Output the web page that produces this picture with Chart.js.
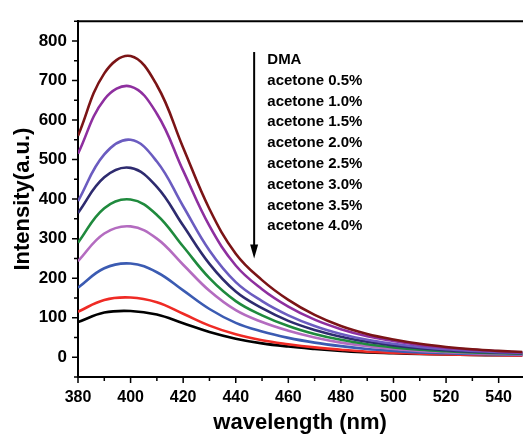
<!DOCTYPE html>
<html lang="en">
  <head>
    <meta charset="UTF-8" />
    <title>Fluorescence</title>
    <script src="https://cdn.jsdelivr.net/npm/chart.js"></script>
    <style>
      html, body { margin: 0; padding: 0; background: #fff; }
      #wrap { width: 523px; height: 436px; }
    </style>
  </head>
  <body>
    <div id="wrap"><canvas id="spec"></canvas></div>
    <script>
      // wavelength (nm)
      const wavelengths = [380, 390, 400, 410, 420, 430, 440, 450, 460, 470, 480, 490, 500, 510, 520, 530, 540, 550];

      const seriesNames = ["DMA", "acetone 0.5%", "acetone 1.0%", "acetone 1.5%", "acetone 2.0%",
                           "acetone 2.5%", "acetone 3.0%", "acetone 3.5%", "acetone 4.0%"];
      const seriesColors = ["#7b1416", "#8e2f9f", "#6b5cc0", "#2e2b6f", "#1f8a3d",
                            "#b46cc0", "#3b5bb2", "#ef2b25", "#000000"];

      const dma   = [560, 718, 762, 688, 530, 375, 262, 195, 145, 107, 79, 59, 45, 34, 26, 20, 16, 13];
      const ac05  = [515, 652, 685, 616, 472, 332, 232, 172, 128, 95, 71, 53, 41, 31, 24, 19, 15, 12];
      const ac10  = [395, 513, 550, 495, 382, 270, 190, 142, 106, 79, 59, 44, 34, 26, 20, 16, 13, 11];
      const ac15  = [365, 455, 479, 431, 333, 236, 166, 124, 92, 69, 52, 39, 30, 23, 18, 14, 12, 10];
      const ac20  = [290, 377, 399, 360, 280, 200, 142, 106, 79, 59, 44, 33, 25, 19, 15, 12, 10, 9];
      const ac25  = [243, 313, 331, 300, 234, 168, 119, 89, 67, 50, 37, 28, 21, 16, 13, 10, 8, 7];
      const ac30  = [176, 225, 237, 215, 169, 122, 87, 65, 49, 37, 28, 21, 16, 12, 10, 8, 7, 6];
      const ac35  = [115, 145, 151, 139, 110, 80, 58, 43, 33, 25, 19, 14, 11, 9, 7, 6, 5, 4];
      const ac40  = [89, 113, 117, 108, 86, 64, 47, 35, 27, 21, 16, 12, 10, 8, 7, 6, 5, 5];
      const allSeries = [dma, ac05, ac10, ac15, ac20, ac25, ac30, ac35, ac40];

      const xMajor = [380, 400, 420, 440, 460, 480, 500, 520, 540];
      const xMinor = [390, 410, 430, 450, 470, 490, 510, 530, 550];
      const yMajor = [0, 100, 200, 300, 400, 500, 600, 700, 800];
      const yMinor = [-50, 50, 150, 250, 350, 450, 550, 650, 750, 850];

      const datasets = allSeries.map((vals, i) => ({
        label: seriesNames[i],
        data: vals.map((v, j) => ({ x: wavelengths[j], y: v })),
        borderColor: seriesColors[i],
        borderWidth: 2.6,
        pointRadius: 0,
        fill: false,
        tension: 0.4,
      }));

      // ticks, top frame, arrow and the text list
      const decor = {
        id: "decor",
        afterDraw(chart) {
          const ctx = chart.ctx;
          const xs = chart.scales.x;
          const ys = chart.scales.y;
          const a = chart.chartArea;
          ctx.save();
          ctx.strokeStyle = "#000";
          ctx.lineWidth = 2;
          ctx.beginPath();
          ctx.moveTo(a.left - 1, a.top);
          ctx.lineTo(chart.width, a.top);
          ctx.stroke();

          ctx.lineWidth = 1.5;
          ctx.beginPath();
          xMajor.forEach((v) => {
            const px = xs.getPixelForValue(v);
            ctx.moveTo(px, a.bottom); ctx.lineTo(px, a.bottom + 6);
          });
          xMinor.forEach((v) => {
            const px = xs.getPixelForValue(v);
            if (px > chart.width) return;
            ctx.moveTo(px, a.bottom); ctx.lineTo(px, a.bottom + 4);
          });
          yMajor.forEach((v) => {
            const py = ys.getPixelForValue(v);
            ctx.moveTo(a.left, py); ctx.lineTo(a.left - 6, py);
          });
          yMinor.forEach((v) => {
            const py = ys.getPixelForValue(v);
            ctx.moveTo(a.left, py); ctx.lineTo(a.left - 4, py);
          });
          ctx.stroke();

          // arrow
          const ax = xs.getPixelForValue(447);
          const ay0 = ys.getPixelForValue(772);
          const ay1 = ys.getPixelForValue(250);
          ctx.lineWidth = 2;
          ctx.beginPath();
          ctx.moveTo(ax, ay0);
          ctx.lineTo(ax, ay1 - 10);
          ctx.stroke();
          ctx.fillStyle = "#000";
          ctx.beginPath();
          ctx.moveTo(ax, ay1);
          ctx.lineTo(ax - 4, ay1 - 14);
          ctx.lineTo(ax + 4, ay1 - 14);
          ctx.closePath();
          ctx.fill();

          ctx.font = "bold 15px 'Liberation Sans', Arial, sans-serif";
          ctx.textAlign = "left";
          ctx.textBaseline = "middle";
          const tx = xs.getPixelForValue(452);
          const ty = ys.getPixelForValue(752);
          seriesNames.forEach((name, i) => {
            ctx.fillText(name, tx, ty + i * 20.8);
          });
          ctx.restore();
        },
      };

      const ctx = document.getElementById("spec").getContext("2d");
      new Chart(ctx, {
        type: "line",
        data: { datasets: datasets },
        options: {
          responsive: true,
          maintainAspectRatio: false,
          animation: false,
          layout: { padding: { left: 0, top: 13, right: 0, bottom: 0 } },
          plugins: { legend: { display: false }, tooltip: { enabled: false } },
          scales: {
            x: {
              type: "linear",
              min: 380,
              max: 549,
              afterBuildTicks: (s) => { s.ticks = xMajor.map((v) => ({ value: v })); },
              afterFit: (s) => { s.height = 59; },
              grid: { display: false, drawTicks: false },
              border: { display: true, color: "#000", width: 2 },
              ticks: {
                color: "#000",
                padding: 11,
                maxRotation: 0,
                font: { family: "'Liberation Sans', Arial, sans-serif", size: 16, weight: "bold" },
              },
              title: {
                display: true,
                text: "wavelength (nm)",
                color: "#000",
                padding: { top: 7, bottom: 0 },
                font: { family: "'Liberation Sans', Arial, sans-serif", size: 22, weight: "bold" },
              },
            },
            y: {
              min: -50,
              max: 850,
              afterBuildTicks: (s) => { s.ticks = yMajor.map((v) => ({ value: v })); },
              afterFit: (s) => { s.width = 78; },
              grid: { display: false, drawTicks: false },
              border: { display: true, color: "#000", width: 2 },
              ticks: {
                color: "#000",
                padding: 11,
                font: { family: "'Liberation Sans', Arial, sans-serif", size: 17, weight: "bold" },
              },
              title: {
                display: true,
                text: "Intensity(a.u.)",
                color: "#000",
                padding: { top: 10, bottom: 0 },
                font: { family: "'Liberation Sans', Arial, sans-serif", size: 22, weight: "bold" },
              },
            },
          },
        },
        plugins: [decor],
      });
    </script>
  </body>
</html>
